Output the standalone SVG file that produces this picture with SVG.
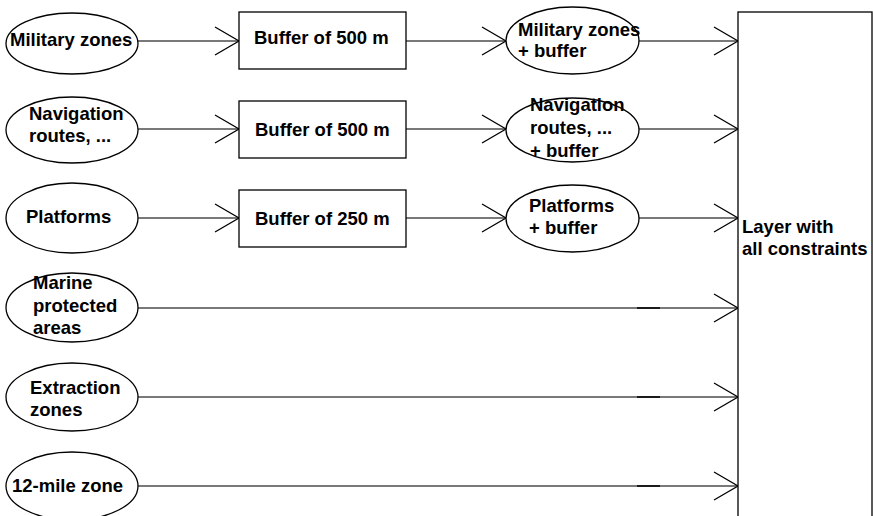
<svg xmlns="http://www.w3.org/2000/svg" width="873" height="516" viewBox="0 0 873 516">
<style>
.n{fill:#fff;stroke:#000;stroke-width:1.3}
.t{font-family:"Liberation Sans",Arial,sans-serif;font-weight:bold;font-size:18.5px;fill:#000}
.c{stroke:#4d4d4d;stroke-width:1.6;fill:none;marker-end:url(#arr)}
</style>
<defs>
<marker id="arr" markerUnits="userSpaceOnUse" markerWidth="28" markerHeight="32" refX="25" refY="16" orient="auto">
<path d="M1,2 L25,16 L1,30" fill="none" stroke="#000" stroke-width="1.3"/>
</marker>
</defs>
<rect width="873" height="516" fill="#fff"/>
<g id="connectors">
<line class="c" x1="138" y1="41" x2="239" y2="41"/>
<line class="c" x1="406" y1="41" x2="506" y2="41"/>
<line class="c" x1="639" y1="41" x2="738" y2="41"/>
<line class="c" x1="138" y1="129" x2="239" y2="129"/>
<line class="c" x1="406" y1="129" x2="506" y2="129"/>
<line class="c" x1="639" y1="129" x2="738" y2="129"/>
<line class="c" x1="138" y1="218" x2="239" y2="218"/>
<line class="c" x1="406" y1="218" x2="506" y2="218"/>
<line class="c" x1="639" y1="218" x2="738" y2="218"/>
<line class="c" x1="138" y1="308" x2="738" y2="308"/>
<line class="c" x1="138" y1="397" x2="738" y2="397"/>
<line class="c" x1="138" y1="486" x2="738" y2="486"/>
<line x1="637" y1="308" x2="660" y2="308" stroke="#111" stroke-width="1.8"/>
<line x1="637" y1="397" x2="660" y2="397" stroke="#111" stroke-width="1.8"/>
<line x1="637" y1="486" x2="660" y2="486" stroke="#111" stroke-width="1.8"/>
</g>
<g id="military"><ellipse class="n" cx="72" cy="43.5" rx="66" ry="30.5"/><text class="t" x="10" y="46">Military zones</text></g>
<g id="navigation"><ellipse class="n" cx="72" cy="130" rx="66" ry="33"/><text class="t" x="29" y="120">Navigation</text><text class="t" x="29" y="142">routes, ...</text></g>
<g id="platforms"><ellipse class="n" cx="72" cy="218" rx="66" ry="35"/><text class="t" x="26" y="223">Platforms</text></g>
<g id="marine"><ellipse class="n" cx="72" cy="307.5" rx="66" ry="34.5"/><text class="t" x="33" y="289">Marine</text><text class="t" x="33" y="312">protected</text><text class="t" x="33" y="334">areas</text></g>
<g id="extraction"><ellipse class="n" cx="72" cy="397" rx="66" ry="34"/><text class="t" x="30" y="394">Extraction</text><text class="t" x="30" y="416">zones</text></g>
<g id="mile12"><ellipse class="n" cx="72" cy="486" rx="66" ry="34"/><text class="t" x="12" y="492">12-mile zone</text></g>
<g id="buffer1"><rect class="n" x="239" y="12" width="167" height="57"/><text class="t" x="254" y="44">Buffer of 500 m</text></g>
<g id="buffer2"><rect class="n" x="239" y="101" width="167" height="57"/><text class="t" x="255" y="136">Buffer of 500 m</text></g>
<g id="buffer3"><rect class="n" x="239" y="190" width="167" height="57"/><text class="t" x="255" y="225">Buffer of 250 m</text></g>
<g id="military-buffer"><ellipse class="n" cx="572.5" cy="40.5" rx="66.5" ry="33.5"/><text class="t" x="518" y="36">Military zones</text><text class="t" x="518" y="57">+ buffer</text></g>
<g id="navigation-buffer"><ellipse class="n" cx="572.5" cy="130" rx="66.5" ry="32"/><text class="t" x="530" y="111">Navigation</text><text class="t" x="530" y="134">routes, ...</text><text class="t" x="530" y="157">+ buffer</text></g>
<g id="platforms-buffer"><ellipse class="n" cx="572.5" cy="218.5" rx="66.5" ry="33.5"/><text class="t" x="529" y="212">Platforms</text><text class="t" x="529" y="234">+ buffer</text></g>
<g id="layer"><rect class="n" x="738" y="12" width="134" height="520"/><text class="t" x="742" y="233">Layer with</text><text class="t" x="742" y="255">all constraints</text></g>
</svg>
